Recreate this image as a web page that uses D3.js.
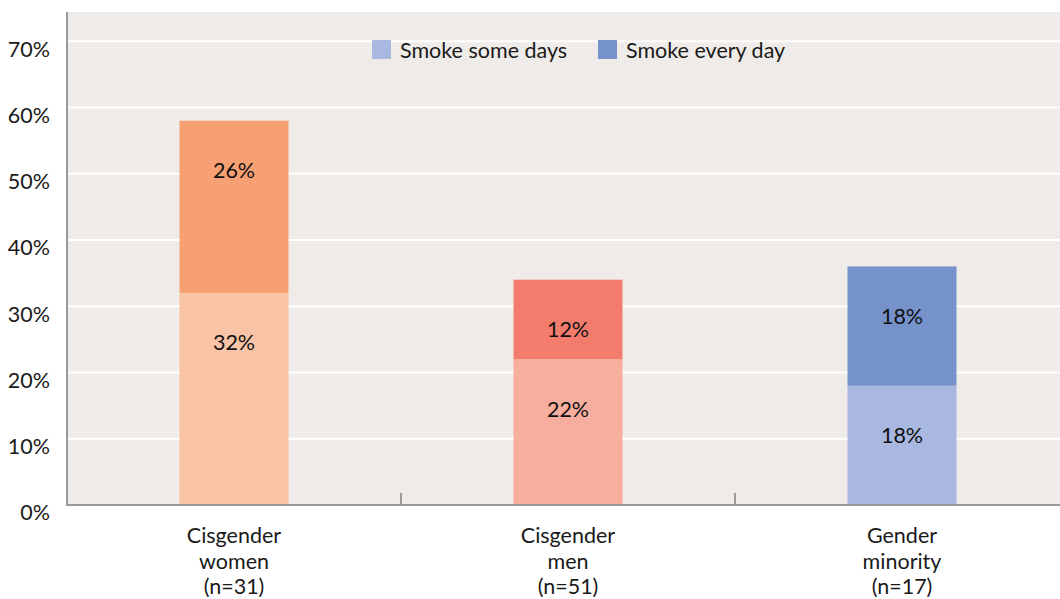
<!DOCTYPE html>
<html>
<head>
<meta charset="utf-8">
<script src="https://cdn.jsdelivr.net/npm/d3@7"></script>
<style>
  body { margin: 0; background: #fff; }
  svg { display: block; font-family: Lato, "Noto Sans", sans-serif; }
</style>
</head>
<body>
<svg id="chart" width="1060" height="599"></svg>
<script>
const categories = ["Cisgender women", "Cisgender men", "Gender minority"];
const categoryLines = [["Cisgender", "women", "(n=31)"], ["Cisgender", "men", "(n=51)"], ["Gender", "minority", "(n=17)"]];
const someDays = [32, 22, 18];
const everyDay = [26, 12, 18];
const yTicks = [0, 10, 20, 30, 40, 50, 60, 70];
const legendLabels = ["Smoke some days", "Smoke every day"];

const bottomColors = ["#F9C4A6", "#F7AE9E", "#A9B8E0"];
const topColors = ["#F7A074", "#F47C6C", "#7592CB"];

(function () {
const svg = d3.select("#chart");
const mLeft = 67, mTop = 12, mBottom = 505;
const x = d3.scaleBand().domain(categories).range([mLeft, mLeft + 334 * 3]).paddingInner(0).paddingOuter(0);
const y = d3.scaleLinear().domain([0, 74.4]).range([mBottom, mTop]);

svg.append("rect").attr("x", mLeft).attr("y", mTop).attr("width", 1060 - mLeft).attr("height", mBottom - mTop).attr("fill", "#EFEBE8");

svg.append("g").selectAll("line").data(yTicks.filter(d => d > 0)).join("line")
  .attr("x1", mLeft).attr("x2", 1060)
  .attr("y1", d => y(d)).attr("y2", d => y(d))
  .attr("stroke", "#fff").attr("stroke-width", 2);

svg.append("g").selectAll("text").data(yTicks).join("text")
  .attr("x", 50).attr("y", d => y(d) + 10)
  .attr("text-anchor", "end").attr("dominant-baseline", "middle")
  .attr("font-size", 21.5).attr("fill", "#1a1a1a")
  .text(d => d + "%");

const barW = 109;
const data = categories.map((c, i) => ({c, i, a: someDays[i], b: everyDay[i]}));

svg.append("g").selectAll("rect").data(data).join("rect")
  .attr("x", d => x(d.c) + x.bandwidth() / 2 - barW / 2)
  .attr("width", barW)
  .attr("y", d => y(d.a)).attr("height", d => y(0) - y(d.a))
  .attr("fill", d => bottomColors[d.i]);
svg.append("g").selectAll("rect").data(data).join("rect")
  .attr("x", d => x(d.c) + x.bandwidth() / 2 - barW / 2)
  .attr("width", barW)
  .attr("y", d => y(d.a + d.b)).attr("height", d => y(d.a) - y(d.a + d.b))
  .attr("fill", d => topColors[d.i]);

const lbl = svg.append("g").attr("font-size", 21.5).attr("fill", "#111").attr("text-anchor", "middle").attr("dominant-baseline", "middle");
data.forEach(d => {
  const cx = x(d.c) + x.bandwidth() / 2;
  lbl.append("text").attr("x", cx).attr("y", y(d.a) + 52).text(d.a + "%");
  lbl.append("text").attr("x", cx).attr("y", y(d.a + d.b) + 52).text(d.b + "%");
});

svg.append("line").attr("x1", mLeft).attr("x2", mLeft).attr("y1", mTop).attr("y2", mBottom + 1).attr("stroke", "#9a9a9a").attr("stroke-width", 2);
svg.append("line").attr("x1", mLeft).attr("x2", 1060).attr("y1", mBottom).attr("y2", mBottom).attr("stroke", "#9a9a9a").attr("stroke-width", 2);
svg.append("g").selectAll("line").data(categories.slice(1)).join("line")
  .attr("x1", d => x(d)).attr("x2", d => x(d))
  .attr("y1", mBottom - 12).attr("y2", mBottom)
  .attr("stroke", "#9a9a9a").attr("stroke-width", 2);

const cl = svg.append("g").attr("font-size", 21.5).attr("fill", "#1a1a1a").attr("text-anchor", "middle");
categories.forEach((c, i) => {
  const cx = x(c) + x.bandwidth() / 2;
  categoryLines[i].forEach((t, j) => {
    cl.append("text").attr("x", cx).attr("y", 543 + j * 25.5).text(t);
  });
});

const lg = svg.append("g");
const legendColors = ["#A9B8E0", "#7592CB"];
const legendX = [372, 598];
legendLabels.forEach((t, i) => {
  lg.append("rect").attr("x", legendX[i]).attr("y", 40).attr("width", 19).attr("height", 19).attr("fill", legendColors[i]);
  lg.append("text").attr("x", legendX[i] + 28).attr("y", 53).attr("dominant-baseline", "middle")
    .attr("font-size", 21.5).attr("fill", "#1a1a1a").text(t);
});
})();
</script>
</body>
</html>
